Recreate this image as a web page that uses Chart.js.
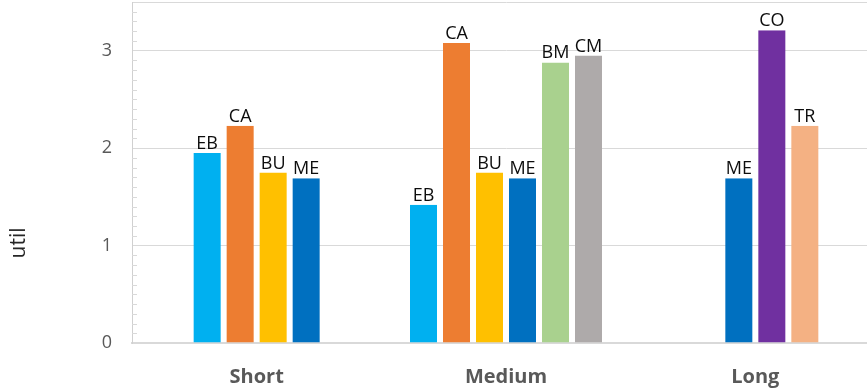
<!DOCTYPE html>
<html>
<head>
<meta charset="utf-8">
<script src="https://cdn.jsdelivr.net/npm/chart.js@4/dist/chart.umd.min.js"></script>
<style>
  html, body { margin: 0; padding: 0; background: #ffffff; overflow: hidden; }
  #wrap { position: relative; width: 880px; height: 389px; }
</style>
</head>
<body>
<div id="wrap"><canvas id="c"></canvas></div>
<script>
// ---- data ----
const categories = ['Short', 'Medium', 'Long'];
const seriesNames = ['EB', 'CA', 'BU', 'ME', 'BM', 'CM', 'CO', 'TR'];
// values per category (Short, Medium, Long); null = no bar; 0 = empty slot
const EB = [1.95, 1.42, 0];
const CA = [2.23, 3.08, null];
const BU = [1.75, 1.75, null];
const ME = [1.69, 1.69, 1.69];
const BM = [null, 2.88, null];
const CM = [null, 2.95, null];
const CO = [null, null, 3.21];
const TR = [null, null, 2.23];
const yTickValues = [0, 1, 2, 3];
const yAxisTitle = 'util';

const seriesValues = [EB, CA, BU, ME, BM, CM, CO, TR];
const seriesColors = ['#00B0F0', '#ED7D31', '#FFC000', '#0070C0', '#A9D18E', '#AEAAAA', '#7030A0', '#F4B183'];

Chart.defaults.font.family = "'Open Sans', sans-serif";

const datasets = seriesNames.map((name, i) => ({
  label: name,
  data: seriesValues[i],
  backgroundColor: seriesValues[i].map(v => (v ? seriesColors[i] : 'rgba(0,0,0,0)')),
  borderColor: 'rgba(0,0,0,0)',
  borderWidth: { left: 3, right: 3, top: 0, bottom: 0 },
  inflateAmount: 0,
  barThickness: 33,
  skipNull: true
}));

const barLabels = {
  id: 'barLabels',
  afterDatasetsDraw(chart) {
    const ctx = chart.ctx;
    ctx.save();
    ctx.font = "18px 'Open Sans', sans-serif";
    ctx.fillStyle = '#0D0D0D';
    ctx.textAlign = 'center';
    ctx.textBaseline = 'alphabetic';
    chart.data.datasets.forEach((ds, di) => {
      const meta = chart.getDatasetMeta(di);
      meta.data.forEach((bar, j) => {
        const v = ds.data[j];
        if (v === null || v === undefined || v === 0) return;
        ctx.fillText(ds.label, bar.x, bar.y - 4);
      });
    });
    ctx.restore();
  }
};

const minorTicks = {
  id: 'minorTicks',
  beforeDatasetsDraw(chart) {
    const y = chart.scales.y;
    const ctx = chart.ctx;
    ctx.save();
    ctx.strokeStyle = '#D9D9D9';
    ctx.lineWidth = 1;
    for (let i = 1; i < 35; i++) {
      if (i % 10 === 0) continue;
      const py = Math.round(y.getPixelForValue(i / 10)) + 0.5;
      ctx.beginPath();
      ctx.moveTo(chart.chartArea.left, py);
      ctx.lineTo(chart.chartArea.left + 5, py);
      ctx.stroke();
    }
    ctx.restore();
  }
};

const yTitle = {
  id: 'yTitle',
  afterDraw(chart) {
    const ctx = chart.ctx;
    ctx.save();
    ctx.translate(19, 243);
    ctx.rotate(-Math.PI / 2);
    ctx.font = "21px 'Open Sans', sans-serif";
    ctx.fillStyle = '#262626';
    ctx.textAlign = 'center';
    ctx.textBaseline = 'middle';
    ctx.fillText(yAxisTitle, 0, 0);
    ctx.restore();
  }
};

new Chart(document.getElementById('c'), {
  type: 'bar',
  data: { labels: categories, datasets },
  plugins: [minorTicks, barLabels, yTitle],
  options: {
    responsive: true,
    maintainAspectRatio: false,
    animation: false,
    events: [],
    layout: { padding: { top: 2, right: 0, bottom: 0, left: 0 } },
    plugins: { legend: { display: false }, tooltip: { enabled: false } },
    scales: {
      x: {
        grid: { display: false },
        border: { display: true, color: '#D9D9D9', width: 2 },
        ticks: {
          color: '#595959',
          font: { size: 20, weight: 'bold' },
          padding: 14
        },
        afterFit(scale) {
          scale.height = 46;
          scale.paddingLeft = 0; scale.paddingRight = 0;
        }
      },
      y: {
        min: 0,
        max: 3.5,
        afterBuildTicks(scale) {
          scale.ticks = yTickValues.concat([3.5]).map(v => ({ value: v }));
        },
        grid: { color: '#D9D9D9', lineWidth: 1, drawTicks: false },
        border: { display: true, color: '#D0D0D0', width: 1 },
        ticks: {
          color: '#595959',
          font: { size: 18 },
          padding: 20,
          callback: v => (yTickValues.includes(v) ? String(v) : '')
        },
        afterFit(scale) {
          scale.width = 132;
          scale.paddingTop = 0; scale.paddingBottom = 0;
        }
      }
    }
  }
});
</script>
</body>
</html>
